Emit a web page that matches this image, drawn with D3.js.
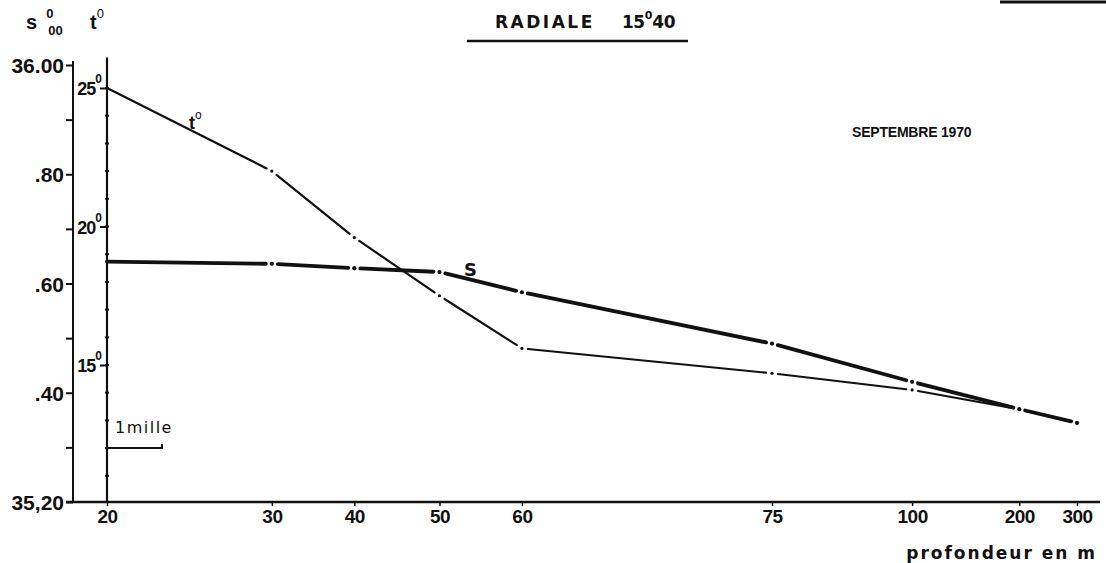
<!DOCTYPE html>
<html>
<head>
<meta charset="utf-8">
<script src="https://cdnjs.cloudflare.com/ajax/libs/d3/7.8.5/d3.min.js"></script>
<style>
  body { margin: 0; background: #fff; }
  text { font-family: "Liberation Sans", Arial, sans-serif; fill: #111; }
  text.wide { font-family: "DejaVu Sans", sans-serif; }
  .lbl { font-weight: bold; }
</style>
</head>
<body>
<div id="chart"></div>
<script>
// stations along the radial: bottom depth label + distance from first station (miles)
var depthLabels = ["20", "30", "40", "50", "60", "75", "100", "200", "300"];
var distMiles = [0, 3, 4.5, 6.05, 7.55, 12.1, 14.65, 16.6, 17.65];
// salinity (per mille) and temperature (deg C) at each station
var salinity = [35.64, 35.636, 35.628, 35.621, 35.584, 35.49, 35.42, 35.37, 35.345];
var temperature = [25.0, 22.0, 19.6, 17.5, 15.6, 14.7, 14.1, 13.4, 12.9];

var salTicks = [35.2, 35.3, 35.4, 35.5, 35.6, 35.7, 35.8, 35.9, 36.0];
var salLabels = {"35.2": "35,20", "35.4": ".40", "35.6": ".60", "35.8": ".80", "36": "36.00"};
var tempTicks = [15, 20, 25];

var width = 1106;
var height = 563;
var axisY = 502;
var salX = 73;
var tempX = 107;

var svg = d3.select("#chart")
  .append("svg")
  .attr("width", width)
  .attr("height", height);

var xScale = d3.scaleLinear().domain([0, 17.65]).range([tempX, 1077]);
var sScale = d3.scaleLinear().domain([35.2, 36.0]).range([axisY, 65]);
var tScale = d3.scaleLinear().domain([15, 25]).range([365, 88]);

// salinity axis
var sAxis = d3.axisLeft(sScale)
  .tickValues(salTicks)
  .tickSize(7)
  .tickPadding(2)
  .tickFormat(function(d) { return salLabels[String(+d.toFixed(1))] || ""; });

var gs = svg.append("g")
  .attr("transform", "translate(" + salX + ",0)")
  .call(sAxis);
gs.select(".domain").remove();
gs.selectAll("line").attr("stroke", "#111").attr("stroke-width", 2);
gs.selectAll("text")
  .attr("class", "lbl")
  .style("font-size", "21px")
  .attr("dy", "0.36em");
svg.append("line")
  .attr("x1", salX).attr("x2", salX)
  .attr("y1", 61).attr("y2", axisY)
  .attr("stroke", "#111").attr("stroke-width", 2);

// temperature axis
var tAxis = d3.axisLeft(tScale).tickValues(tempTicks).tickSize(7).tickFormat("");
var gt = svg.append("g")
  .attr("transform", "translate(" + tempX + ",0)")
  .call(tAxis);
gt.select(".domain").remove();
gt.selectAll("line").attr("stroke", "#111").attr("stroke-width", 2);
svg.append("line")
  .attr("x1", tempX).attr("x2", tempX)
  .attr("y1", tScale(26.1)).attr("y2", axisY)
  .attr("stroke", "#111").attr("stroke-width", 2.2);
// degree dots on the temperature axis
svg.selectAll(".tdot")
  .data(d3.range(11, 26))
  .enter()
  .append("line")
  .attr("x1", tempX - 2).attr("x2", tempX + 2)
  .attr("y1", function(d) { return tScale(d); })
  .attr("y2", function(d) { return tScale(d); })
  .attr("stroke", "#111").attr("stroke-width", 2);

tempTicks.forEach(function(t) {
  var lab = svg.append("text")
    .attr("class", "lbl")
    .attr("x", tempX - 6)
    .attr("y", tScale(t) + 7)
    .attr("text-anchor", "end")
    .style("font-size", "18px")
    .style("letter-spacing", "-1px");
  lab.append("tspan").text(t);
  lab.append("tspan").attr("dy", -12).style("font-size", "12px").text("0");
});

// x axis (distance, labelled with bottom depth)
svg.append("line")
  .attr("x1", 66).attr("x2", 1100)
  .attr("y1", axisY).attr("y2", axisY)
  .attr("stroke", "#111").attr("stroke-width", 2.5);

var xAxis = d3.axisBottom(xScale)
  .tickValues(distMiles)
  .tickSize(4)
  .tickPadding(4)
  .tickFormat(function(d, i) { return depthLabels[i]; });
var gx = svg.append("g")
  .attr("transform", "translate(0," + axisY + ")")
  .call(xAxis);
gx.select(".domain").remove();
gx.selectAll("line").attr("stroke", "#111").attr("stroke-width", 1.5);
gx.selectAll("text")
  .attr("class", "lbl")
  .style("font-size", "19px")
  .style("letter-spacing", "-0.5px");

svg.append("text")
  .attr("class", "lbl wide")
  .attr("x", 1097).attr("y", 559)
  .attr("text-anchor", "end")
  .style("font-size", "17px")
  .style("letter-spacing", "2px")
  .text("profondeur en m");

// dash-dot profiles: a break and a dot at every station
function drawProfile(values, yScale, sw, dotR) {
  var pts = values.map(function(v, i) { return [xScale(distMiles[i]), yScale(v)]; });
  var gap = 6;
  var g = svg.append("g");
  for (var i = 0; i < pts.length - 1; i++) {
    var p0 = pts[i], p1 = pts[i + 1];
    var dx = p1[0] - p0[0], dy = p1[1] - p0[1];
    var len = Math.sqrt(dx * dx + dy * dy);
    var ux = dx / len, uy = dy / len;
    var s = i === 0 ? 0 : gap;
    g.append("line")
      .attr("x1", p0[0] + ux * s).attr("y1", p0[1] + uy * s)
      .attr("x2", p1[0] - ux * gap).attr("y2", p1[1] - uy * gap)
      .attr("stroke", "#111")
      .attr("stroke-width", sw)
      .attr("stroke-linecap", "round");
  }
  g.selectAll("circle")
    .data(pts.slice(1))
    .enter()
    .append("circle")
    .attr("cx", function(d) { return d[0]; })
    .attr("cy", function(d) { return d[1]; })
    .attr("r", dotR)
    .attr("fill", "#111");
}
drawProfile(temperature, tScale, 2.2, 1.6);
drawProfile(salinity, sScale, 3.8, 2.1);

// line labels
var tl = svg.append("text")
  .attr("class", "lbl")
  .attr("x", 189).attr("y", 129)
  .style("font-size", "18px");
tl.append("tspan").text("t");
tl.append("tspan").attr("dy", -10).style("font-size", "12px").style("font-weight", "normal").text("o");

svg.append("text")
  .attr("class", "lbl wide")
  .attr("x", 464).attr("y", 276)
  .style("font-size", "18px")
  .text("S");

// axis unit headers
var sh = svg.append("text")
  .attr("class", "lbl")
  .attr("x", 26).attr("y", 29)
  .style("font-size", "20px");
sh.append("tspan").text("s");
sh.append("tspan").attr("dx", 9).attr("dy", -11).style("font-size", "13px").text("0");
sh.append("tspan").attr("dx", -5).attr("dy", 17).style("font-size", "13px").text("00");

var th = svg.append("text")
  .attr("class", "lbl")
  .attr("x", 90).attr("y", 29)
  .style("font-size", "20px");
th.append("tspan").text("t");
th.append("tspan").attr("dy", -11).style("font-size", "13px").style("font-weight", "normal").text("0");

// title
var title = svg.append("text")
  .attr("class", "lbl wide")
  .attr("x", 495).attr("y", 28)
  .style("font-size", "17px")
  .style("letter-spacing", "2.5px");
title.append("tspan").text("RADIALE");
title.append("tspan").attr("x", 622).style("letter-spacing", "-0.5px").text("15");
title.append("tspan").attr("dy", -9).style("font-size", "11px").style("letter-spacing", "0px").text("0");
title.append("tspan").attr("dy", 9).style("letter-spacing", "-0.5px").text("40");
svg.append("line")
  .attr("x1", 467).attr("x2", 688)
  .attr("y1", 41).attr("y2", 41)
  .attr("stroke", "#111").attr("stroke-width", 2.5);
svg.append("line")
  .attr("x1", 1000).attr("x2", 1106)
  .attr("y1", 2).attr("y2", 2)
  .attr("stroke", "#111").attr("stroke-width", 3);

svg.append("text")
  .attr("class", "lbl")
  .attr("x", 852).attr("y", 137)
  .style("font-size", "14px")
  .style("letter-spacing", "-0.2px")
  .text("SEPTEMBRE 1970");

// scale bar: 1 mile
svg.append("text")
  .attr("class", "wide")
  .attr("x", 115).attr("y", 433)
  .style("font-size", "16px")
  .style("letter-spacing", "1.5px")
  .text("1mille");
svg.append("path")
  .attr("d", "M" + xScale(0) + ",448H" + xScale(1) + "V444")
  .attr("fill", "none")
  .attr("stroke", "#111").attr("stroke-width", 2);
</script>
</body>
</html>
